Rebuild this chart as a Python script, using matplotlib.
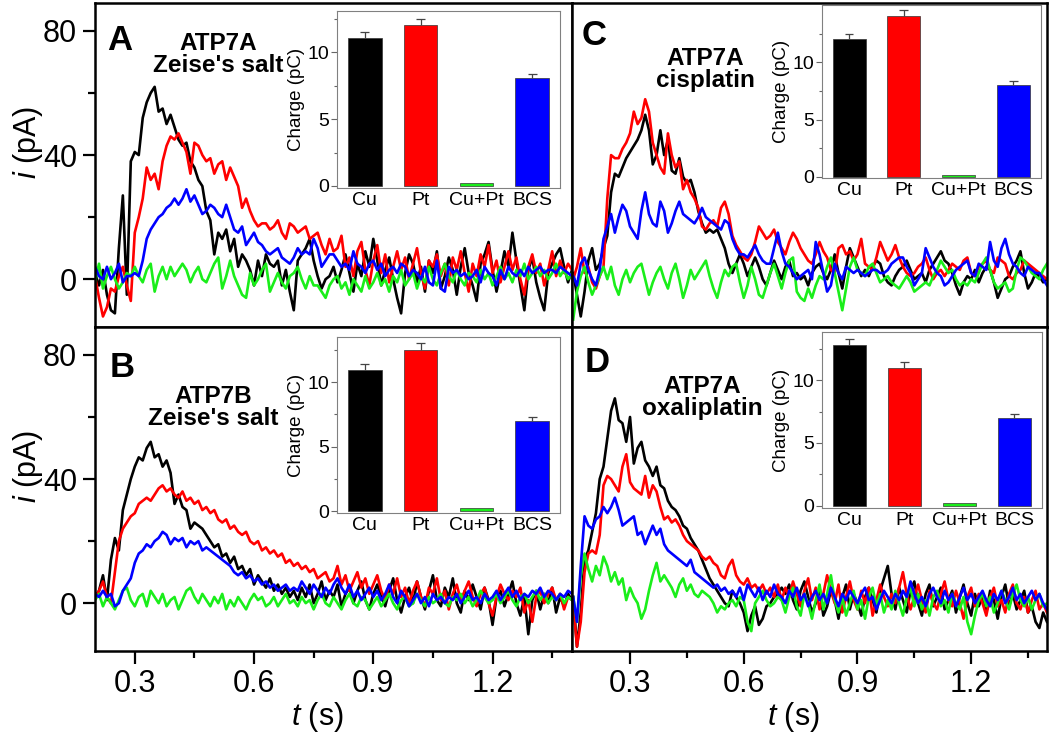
import matplotlib.pyplot as plt
import numpy as np
from matplotlib.ticker import FixedLocator

plt.rcParams['font.family'] = ['Liberation Sans', 'DejaVu Sans']
plt.rcParams['mathtext.fontset'] = 'custom'
plt.rcParams['mathtext.it'] = 'Liberation Sans:italic'
plt.rcParams['mathtext.rm'] = 'Liberation Sans'

# ---- current traces (pA), sampled every 0.01 s ----
# panels A and B start at t = 0.20 s, panels C and D at t = 0.15 s
a_black = [
    2, -2, 3, -5, -10, -11, 10, 27, -5, 38,
    41, 40, 52, 57, 60, 62, 54, 55, 50, 53,
    49, 45, 43, 44, 38, 36, 32, 30, 22, 19,
    8, 15, 13, 16, 9, 13, 4, 8, 6, 3,
    -2, 6, 1, 8, 5, 4, 6, -2, 3, -4,
    -10, 6, 8, 10, 13, 6, 1, -3, 0, 1,
    4, -1, 3, 8, 2, -4, 5, 1, 9, 4,
    13, 6, -2, 3, 7, 0, -6, -11, 2, 8,
    5, -1, 4, -4, 6, 2, 9, -3, 1, 7,
    3, -5, 4, 10, 2, -2, -7, 5, 8, 12,
    3, -4, 2, 9, 4, 15, 6, -2, -10, 3,
    7, -1, -6, -10, 2, 5, 8, 10, 4, -1,
    3]
a_red = [
    1, -6, -12, -9, -3, -4, 1, 4, -2, -7,
    15, 20, 26, 36, 32, 34, 29, 38, 43, 46,
    45, 47, 44, 41, 34, 44, 43, 40, 38, 39,
    34, 37, 38, 32, 36, 33, 30, 23, 26, 22,
    19, 17, 18, 18, 16, 17, 19, 15, 13, 18,
    17, 15, 16, 17, 13, 14, 15, 11, 8, 13,
    9, 10, 14, 4, 7, 1, 9, 12, 3, -2,
    6, 11, 2, 8, -1, 4, 9, 3, 7, 0,
    5, 10, 2, -3, 6, 4, 8, 1, 5, -2,
    7, 3, 9, 2, -4, 5, 1, 8, 4, 11,
    2, 6, -1, 4, 9, 3, 7, 0, -5, 4,
    8, 2, 5, -2, 3, 9, 1, 6, 2, 5,
    3]
a_blue = [
    4, 1, 0, 4, 0, 2, 5, -1, 1, 1,
    2, 1, 6, 13, 16, 18, 20, 21, 23, 24,
    26, 24, 26, 29, 25, 27, 24, 21, 22, 24,
    23, 21, 20, 24, 20, 16, 15, 17, 11, 13,
    15, 12, 11, 9, 8, 9, 10, 7, 6, 5,
    7, 10, 8, 9, 8, 13, 10, 4, 6, 8,
    8, 6, 4, 5, 3, 9, 5, 4, 2, 5,
    6, 3, 5, 1, 3, 4, 2, 5, 4, 1,
    3, 2, 0, 4, -1, -2, 6, -3, -4, 4,
    2, 3, 1, 2, 0, 1, 3, -1, 4, 2,
    1, -2, 3, 0, 4, 2, 1, 3, 1, 4,
    2, 3, 4, 2, 3, 3, 2, 4, 3, 2,
    1]
a_green = [
    -1, 5, -3, 1, 4, 0, -3, -1, 2, 1,
    4, 1, -1, 3, 5, -4, 1, 4, 0, 4,
    1, 3, 5, 3, -1, 2, 4, 0, -1, 2,
    5, 7, -3, 1, 6, 1, -2, -5, -6, 2,
    -2, 0, 3, 5, -4, -1, 2, -1, -3, 1,
    2, 4, 0, -3, 1, -2, -2, -4, -6, -2,
    0, 1, -3, -1, -5, 0, -2, -4, 1, -3,
    -1, 2, -2, 0, -4, 1, -1, 3, -2, 0,
    2, -3, 1, -1, 4, 0, -2, 2, 5, 1,
    -1, 3, 0, -2, 2, 1, -1, 3, 0, 2,
    -2, 1, 4, 0, 2, -1, 3, 1, 5, 0,
    2, 4, 1, 3, 0, 2, 5, 1, 3, 0,
    2]

b_black = [
    2, 4, 9, 1, 14, 21, 17, 30, 35, 40,
    44, 47, 46, 50, 52, 47, 48, 44, 46, 42,
    32, 35, 31, 30, 24, 26, 25, 24, 22, 20,
    18, 19, 15, 16, 13, 15, 11, 12, 9, 11,
    6, 9, 7, 5, 8, 4, 6, 3, 5, 2,
    4, 1, 5, 2, 6, 0, 3, 7, 1, 4,
    2, 6, -1, 3, 5, 0, 4, 7, 1, -2,
    3, 6, 2, -1, 4, 8, 1, -3, 2, 5,
    0, 7, 2, -2, 4, 9, 1, -1, 5, 2,
    8, 0, -3, 4, 1, 6, 2, -2, 5, 1,
    -7, 2, 4, -1, 3, 7, 0, -4, 2, -10,
    1, 4, -2, 3, 0, 5, -3, 2, -1, 3,
    1]
b_red = [
    2, 4, 7, 2, 0, 10, 20, 24, 26, 28,
    29, 32, 33, 34, 33, 35, 37, 38, 36, 37,
    35, 34, 36, 33, 34, 32, 33, 30, 31, 29,
    30, 27, 26, 27, 24, 25, 23, 22, 23, 20,
    19, 20, 17, 18, 16, 17, 15, 16, 13, 14,
    12, 13, 11, 12, 10, 11, 8, 9, 10, 7,
    8, 12, 6, 9, 4, 7, 10, 5, 8, 3,
    6, 9, 4, 1, 6, 3, 8, 2, 5, 0,
    4, 7, 2, -1, 5, 3, 8, 1, 4, -2,
    3, 6, 1, 4, 7, 2, -1, 3, 5, 0,
    -4, 2, 6, 3, 1, 4, 2, 5, -3, 1,
    -6, 2, 4, 0, 3, 5, 1, 3, -2, 2,
    1]
b_blue = [
    3, 2, 4, 2, 3, -1, 0, 4, 6, 8,
    13, 16, 17, 19, 18, 20, 21, 23, 22, 19,
    21, 20, 21, 18, 20, 19, 20, 17, 18, 17,
    16, 15, 14, 13, 12, 10, 9, 10, 8, 9,
    7, 8, 6, 7, 5, 6, 4, 5, 6, 4,
    5, 4, 7, 5, 3, 6, 4, 2, 5, 3,
    6, 8, 5, 3, 6, 2, 4, 1, 3, 5,
    2, 4, 1, 3, 6, 2, 0, 4, 2, -1,
    1, 3, 0, 2, -1, 3, 1, 2, 0, 2,
    1, 3, 0, 2, 4, 1, 2, 0, 3, 1,
    2, 4, 1, 3, 5, 2, 4, 1, 3, 2,
    4, 3, 5, 2, 4, 3, 1, 3, 2, 4,
    3]
b_green = [
    1, 3, -1, 2, 0, -2, 1, 4, 5, 1,
    -1, 2, 3, -1, 4, 2, 0, 3, -1, 1,
    2, -2, 1, 4, 5, 2, 0, 3, 1, -1,
    2, 0, 3, -2, 1, -1, 2, 0, -2, 1,
    3, 1, 2, -1, 0, 2, -1, 1, 3, 0,
    1, -1, 2, 0, 1, -2, 1, 3, 0, -1,
    2, 0, -2, 1, 3, 0, -1, 2, 1, -2,
    0, 2, -1, 1, 3, 0, -2, 1, 2, -1,
    0, 3, 1, -1, 2, 0, 1, 3, 0, -1,
    2, 1, 3, 0, 2, -1, 1, 4, 2, 0,
    1, 3, 0, 2, 4, 1, -1, 2, 3, 0,
    2, 4, 1, 3, 0, 2, 1, 3, 0, 2,
    1]

c_black = [
    2, -5, -12, -4, 6, 10, 3, 5, 10, 14,
    28, 34, 33, 36, 39, 41, 43, 45, 48, 53,
    48, 37, 40, 48, 40, 45, 35, 34, 39, 33,
    31, 32, 28, 22, 18, 15, 16, 15, 16, 13,
    10, 5, 2, 5, 8, 5, 1, 4, 7, 4,
    0, -2, 2, 6, 3, 0, 4, 6, 1, 2,
    0, 1, -2, 2, 4, 5, 2, 0, 3, 8,
    2, -3, 4, 10, 7, 4, 1, 3, 1, 4,
    6, 5, 1, -1, -2, 1, 3, 4, 6, 3,
    0, 1, 2, -1, 3, 5, 7, 9, 6, 5,
    2, -2, -5, -1, 1, 0, 3, -1, 2, 4,
    3, -1, -6, -3, 0, 1, 4, 6, 9, 2,
    -3, -1, 2, 1, -1, 0]
c_red = [
    0, 4, 10, 2, 4, -1, -3, 1, 4, 26,
    40, 39, 39, 42, 44, 47, 54, 50, 52, 58,
    54, 44, 40, 36, 34, 47, 40, 36, 38, 29,
    32, 28, 26, 23, 17, 16, 18, 19, 17, 23,
    25, 21, 14, 11, 9, 7, 6, 8, 12, 17,
    15, 13, 14, 16, 12, 10, 8, 12, 15, 13,
    10, 8, 6, 5, 8, 12, 9, 7, 3, 2,
    10, 11, 8, 9, 6, 8, 13, 5, 4, 3,
    7, 12, 9, 6, 8, 11, 7, 4, 2, 1,
    2, 4, 5, 7, 3, 0, 2, 3, 1, 3,
    5, 4, 3, 6, 7, 2, 1, 4, 5, 6,
    3, 2, 7, 6, 5, 1, 0, 2, 3, 6,
    5, 4, 3, 2, 1, 0]
c_blue = [
    1, -2, 5, 7, 3, 0, -2, 3, 13, 17,
    21, 15, 20, 24, 22, 17, 15, 13, 22, 28,
    21, 18, 17, 25, 22, 15, 18, 22, 25, 21,
    20, 19, 18, 20, 23, 20, 19, 18, 17, 16,
    19, 18, 13, 10, 8, 8, 7, 9, 11, 8,
    6, 5, 5, 10, 15, 9, 5, 4, 2, 0,
    1, 2, 3, 0, 12, 8, 2, -4, -2, 5,
    2, 0, 4, 3, 2, 3, 2, 1, 2, 3,
    3, 2, 2, 3, 5, 6, 7, 7, 4, 2,
    -2, 0, 2, 10, 7, 4, 2, 1, -2, -1,
    1, 3, 4, 5, 6, 2, 1, 5, 4, 3,
    12, 6, 4, 10, 13, 8, 5, 4, 2, 1,
    4, 3, 2, 2, 0, -2]
c_green = [
    -13, -4, 1, 4, -1, -5, -2, 1, 4, 0,
    4, -2, -5, 0, 3, -1, 2, 4, 5, 0,
    -5, -1, 2, 4, 0, -3, 2, 5, 0, -6,
    -2, 3, 0, 2, 4, 6, 1, -3, -6, -1,
    3, 1, 4, 5, -1, -6, -2, 4, 0, -5,
    -6, -2, 2, 5, 1, -3, 2, 6, 7, -4,
    -6, -7, -3, -6, -2, 1, 0, 4, 7, 2,
    -4, -10, -3, 4, 7, 3, 2, 1, 4, 5,
    2, -1, 0, 1, -1, -2, -3, -1, 1, -1,
    -4, -3, -2, -1, -2, 1, 3, 6, 4, 2,
    3, 0, -2, -1, -2, 0, -1, 2, 5, 7,
    3, -1, -3, -2, -1, -4, -3, 3, 7, 6,
    4, 2, 1, 0, 3, 5]

d_black = [
    2, -14, -3, 14, 17, 23, 29, 40, 44, 53,
    62, 66, 59, 58, 52, 60, 45, 50, 52, 46,
    44, 41, 44, 38, 37, 33, 31, 30, 28, 25,
    24, 21, 19, 17, 14, 11, 8, 6, 4, 2,
    0, -1, 4, 2, 0, -3, -9, -4, -1, -7,
    -5, -1, 0, 2, 3, 5, 3, 6, 1, -2,
    4, 7, 2, -3, 0, 5, -4, -1, 4, 1,
    -5, 2, 6, -2, 3, 0, -4, 2, 5, 1,
    -3, 4, 8, 12, 3, -2, 5, 1, -3, 4,
    7, 0, -4, 3, 6, -1, 2, 5, -2, 1,
    4, -3, 2, 6, 0, -4, 3, -1, 2, -3,
    4, 1, -5, 2, 6, -1, 3, -2, 1, 4,
    -3, -1, -6, -8, -3, -6]
d_red = [
    0, -14, -6, 10, 16, 17, 16, 22, 38, 41,
    40, 38, 36, 44, 48, 39, 37, 36, 35, 41,
    34, 38, 36, 31, 27, 28, 26, 27, 25, 22,
    20, 19, 18, 17, 15, 14, 15, 13, 12, 9,
    8, 12, 14, 9, 7, 6, 8, 5, 6, 4,
    6, 3, 5, 2, 6, 1, 5, 2, 7, 3,
    -1, 4, 8, 1, 5, -2, 3, 9, 4, 0,
    6, -3, 2, 7, 1, -2, 4, 0, 5, -4,
    1, 6, 2, -1, 3, 0, 5, 10, 3, -2,
    2, 6, 1, -3, 4, 0, -2, 3, 7, 1,
    -1, 4, 0, -5, 2, 5, -1, 3, 0, -4,
    2, 5, -1, 1, -3, 3, 6, 0, -2, 2,
    -3, 1, 4, -2, 0, -3]
d_blue = [
    2, -6, 12, 28, 25, 24, 27, 28, 31, 29,
    31, 34, 30, 25, 26, 27, 28, 22, 23, 19,
    22, 25, 22, 24, 19, 17, 16, 15, 14, 13,
    12, 14, 10, 9, 8, 7, 6, 5, 6, 4,
    5, 3, 4, 2, 5, 1, 6, 4, 2, 5,
    1, 4, 2, 6, 3, 2, 0, 4, 2, 5,
    1, 3, -1, 2, 4, 1, 3, 0, 5, 2,
    -1, 3, 1, 4, 2, 0, 3, 5, 1, 2,
    -2, 1, 4, 2, 0, 3, 1, 4, 2, 7,
    3, 0, 2, -1, 3, 5, 2, 0, 4, 1,
    3, -1, 2, 5, 1, 3, 0, 2, 4, 1,
    -1, 3, 1, 4, 0, 2, 5, 1, 3, 0,
    2, 4, 1, 3, 0, -2]
d_green = [
    2, -6, 9, 16, 11, 7, 12, 9, 15, 12,
    7, 10, 6, 8, 1, 5, 2, 0, -5, -2,
    4, 9, 13, 7, 9, 7, 5, 2, 6, 8,
    4, 6, 3, 2, 4, 3, 2, 0, -3, -1,
    -2, 0, 1, -1, 2, 1, -6, -9, 0, 2,
    4, 1, -1, 0, 2, 1, -3, 2, 5, -1,
    -4, 3, 0, -5, 1, 6, -2, 3, 9, 1,
    -3, 2, -4, 0, 4, -2, 1, -5, 2, 5,
    -1, 3, -3, 1, -2, 4, 0, -4, 2, 5,
    -1, 3, -2, 1, -4, 2, 4, -1, 1, -3,
    3, 0, -2, 2, -6, -10, -4, 1, 3, -1,
    2, -3, 0, 4, 1, -2, 3, 6, 1, -1,
    2, -2, 1, 3, -1, 0]

# ---- inset bar charts: charge (pC) ----
categories = ['Cu', 'Pt', 'Cu+Pt', 'BCS']
charge_A = [11.05, 12.05, 0.2, 8.05]
err_A = [0.45, 0.45, 0.0, 0.3]
charge_B = [10.95, 12.5, 0.2, 7.0]
err_B = [0.45, 0.5, 0.0, 0.3]
charge_C = [12.0, 14.05, 0.2, 8.0]
err_C = [0.5, 0.55, 0.0, 0.35]
charge_D = [12.8, 11.0, 0.2, 7.0]
err_D = [0.5, 0.45, 0.0, 0.3]

colors = ['#000000', '#ff0000', '#1aee1a', '#0000ff']


def setup_main(ax, xmin, show_x, show_y):
    ax.set_xlim(xmin, 1.40)
    ax.set_ylim(-15.4, 89)
    for s in ax.spines.values():
        s.set_linewidth(1.8)
    ax.xaxis.set_major_locator(FixedLocator([0.3, 0.6, 0.9, 1.2]))
    ax.xaxis.set_minor_locator(FixedLocator([0.45, 0.75, 1.05, 1.35]))
    ax.yaxis.set_major_locator(FixedLocator([0, 40, 80]))
    ax.yaxis.set_minor_locator(FixedLocator([20, 60]))
    ax.tick_params(which='both', direction='out', width=1.6, labelsize=22,
                   top=False, right=False, pad=4)
    ax.tick_params(which='major', length=9)
    ax.tick_params(which='minor', length=5)
    if not show_x:
        ax.tick_params(axis='x', which='both', bottom=False, labelbottom=False)
    else:
        ax.set_xlabel(r'$\mathit{t}$ (s)', fontsize=22)
        ax.xaxis.set_label_coords(0.467, -0.15)
    if not show_y:
        ax.tick_params(axis='y', which='both', left=False, labelleft=False)
    else:
        ax.set_ylabel(r'$\mathit{i}$ (pA)', fontsize=22)
        ax.yaxis.set_label_coords(-0.105, 0.57)


def draw_traces(ax, t0, traces):
    for y, c in zip(traces, colors):
        t = t0 + 0.01 * np.arange(len(y))
        ax.plot(t, y, color=c, lw=1.9)


def draw_inset(rect, vals, errs, ymax, ymin):
    ins = fig.add_axes(rect)
    x = np.arange(1, 5)
    ins.bar(x, vals, width=0.6, color=colors, edgecolor='#333333', linewidth=0.5)
    vals = np.array(vals)
    errs = np.array(errs)
    has = errs > 0
    ins.vlines(x[has], vals[has], vals[has] + errs[has], color='#444444', lw=0.9)
    ins.hlines(vals[has] + errs[has], x[has] - 0.08, x[has] + 0.08,
               color='#444444', lw=0.9)
    ins.set_xlim(0.5, 4.5)
    ins.set_ylim(ymin, ymax)
    ins.set_xticks(x)
    ins.set_xticklabels(categories)
    ins.tick_params(axis='x', length=0, labelsize=14, pad=3)
    ins.yaxis.set_major_locator(FixedLocator([0, 5, 10]))
    ins.yaxis.set_minor_locator(FixedLocator([2.5, 7.5, 12.5]))
    ins.tick_params(axis='y', which='both', direction='out', color='#666666',
                    labelsize=14, pad=1.5, width=0.8)
    ins.tick_params(axis='y', which='major', length=4)
    ins.tick_params(axis='y', which='minor', length=2.5)
    for s in ins.spines.values():
        s.set_color('#808080')
        s.set_linewidth(0.8)
    ins.set_ylabel('Charge (pC)', fontsize=13.5, labelpad=2)
    return ins


fig = plt.figure(figsize=(10.5, 7.4), dpi=100)

axA = fig.add_axes([0.0905, 0.5581, 0.4543, 0.4378])
axB = fig.add_axes([0.0905, 0.1203, 0.4543, 0.4378])
axC = fig.add_axes([0.5448, 0.5581, 0.4523, 0.4378])
axD = fig.add_axes([0.5448, 0.1203, 0.4523, 0.4378])

draw_traces(axA, 0.20, [a_black, a_red, a_green, a_blue])
draw_traces(axB, 0.20, [b_black, b_red, b_green, b_blue])
draw_traces(axC, 0.15, [c_black, c_red, c_green, c_blue])
draw_traces(axD, 0.15, [d_black, d_red, d_green, d_blue])

setup_main(axA, 0.20, False, True)
setup_main(axB, 0.20, True, True)
setup_main(axC, 0.147, False, False)
setup_main(axD, 0.147, True, False)

# panel letters and titles
for ax, letter, lx, ly, title, tx, ty in [
        (axA, 'A', 0.025, 0.935, "ATP7A\nZeise's salt", 0.258, 0.91),
        (axB, 'B', 0.030, 0.925, "ATP7B\nZeise's salt", 0.247, 0.822),
        (axC, 'C', 0.021, 0.950, 'ATP7A\ncisplatin', 0.280, 0.865),
        (axD, 'D', 0.027, 0.940, 'ATP7A\noxaliplatin', 0.274, 0.853)]:
    ax.text(lx, ly, letter, transform=ax.transAxes, fontsize=25,
            fontweight='bold', va='top', ha='left')
    ax.text(tx, ty, title, transform=ax.transAxes, fontsize=17.5,
            fontweight='bold', va='top', ha='center', linespacing=0.95)

draw_inset([0.321, 0.746, 0.2124, 0.2392], charge_A, err_A, 13.1, -0.15)
draw_inset([0.321, 0.3068, 0.2124, 0.2378], charge_B, err_B, 13.5, -0.15)
draw_inset([0.7826, 0.7595, 0.2086, 0.2338], charge_C, err_C, 15.0, -0.1)
draw_inset([0.7826, 0.3131, 0.2095, 0.2386], charge_D, err_D, 13.85, -0.2)

fig.savefig('out.png', dpi=100)
